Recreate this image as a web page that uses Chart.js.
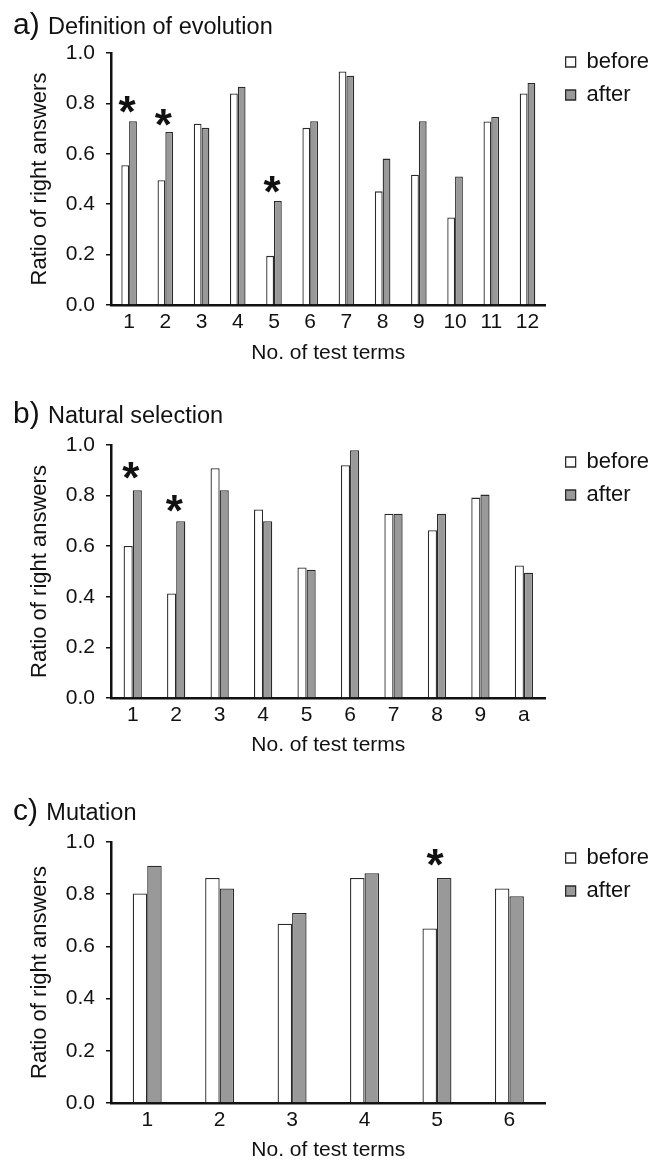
<!DOCTYPE html>
<html>
<head>
<meta charset="utf-8">
<script src="https://cdn.jsdelivr.net/npm/chart.js@4.4.1/dist/chart.umd.min.js"></script>
<style>
  body { margin: 0; background: #fff; width: 662px; height: 1166px; position: relative; overflow: hidden;
         font-family: "Liberation Sans", Arial, sans-serif; color: #111; }
  .panel { position: absolute; left: 0; width: 662px; }
  .ttl { position: absolute; left: 13px; font-size: 30px; line-height: 1; white-space: nowrap; z-index: 2; }
  .ttl span { font-size: 23.5px; }
</style>
</head>
<body>
<div class="ttl" style="top:9px">a) <span>Definition of evolution</span></div>
<div class="panel" style="top:0px"><canvas id="chartA" width="662" height="370"></canvas></div>

<div class="ttl" style="top:398px">b) <span>Natural selection</span></div>
<div class="panel" style="top:380px"><canvas id="chartB" width="662" height="383"></canvas></div>

<div class="ttl" style="top:795px">c) <span>Mutation</span></div>
<div class="panel" style="top:770px"><canvas id="chartC" width="662" height="396"></canvas></div>

<script>
// series names
const seriesNames = ["before", "after"];
const yTicks = [0, 0.2, 0.4, 0.6, 0.8, 1.0];

// a) Definition of evolution
const termsA = ["1", "2", "3", "4", "5", "6", "7", "8", "9", "10", "11", "12"];
const beforeA = [0.555, 0.495, 0.719, 0.839, 0.195, 0.703, 0.927, 0.451, 0.517, 0.347, 0.728, 0.839];
const afterA = [0.729, 0.687, 0.703, 0.866, 0.413, 0.729, 0.910, 0.581, 0.729, 0.510, 0.746, 0.881];
const starsA = [0.794, 0.746, null, null, 0.48, null, null, null, null, null, null, null];

// b) Natural selection
const termsB = ["1", "2", "3", "4", "5", "6", "7", "8", "9", "a"];
const beforeB = [0.601, 0.413, 0.908, 0.745, 0.516, 0.920, 0.728, 0.663, 0.792, 0.524];
const afterB = [0.821, 0.699, 0.821, 0.699, 0.507, 0.979, 0.728, 0.728, 0.804, 0.495];
const starsB = [0.901, 0.767, null, null, null, null, null, null, null, null];

// c) Mutation
const termsC = ["1", "2", "3", "4", "5", "6"];
const beforeC = [0.803, 0.862, 0.687, 0.862, 0.669, 0.822];
const afterC = [0.909, 0.822, 0.728, 0.880, 0.862, 0.792];
const starsC = [null, null, null, null, 0.94, null];

const FONT = '"Liberation Sans", Arial, sans-serif';
Chart.defaults.font.family = FONT;
Chart.defaults.color = '#111';

// asterisks over significant pairs
const starPlugin = {
  id: 'stars',
  afterDatasetsDraw(chart, args, opts) {
    const { ctx, scales: { x, y } } = chart;
    ctx.save();
    ctx.font = 'bold 44px ' + FONT;
    ctx.fillStyle = '#111';
    ctx.textAlign = 'center';
    ctx.textBaseline = 'alphabetic';
    const m = ctx.measureText('*');
    const shift = (m.actualBoundingBoxAscent - m.actualBoundingBoxDescent) / 2;
    (opts.values || []).forEach((v, i) => {
      if (v == null) return;
      ctx.fillText('*', x.getPixelForValue(i) - 2, y.getPixelForValue(v) + shift);
    });
    ctx.restore();
  }
};

// nudge the legend box to where the figure has it
const legendShift = {
  id: 'legendShift',
  afterLayout(chart, args, opts) {
    const l = chart.legend;
    if (!l) return;
    l.left += opts.dx || 0; l.right += opts.dx || 0;
    l.top += opts.dy || 0; l.bottom += opts.dy || 0;
  }
};

function makeChart(id, terms, before, after, stars, groupPct, padTop, axisH, titlePad, legendDy) {
  const ctx = document.getElementById(id).getContext('2d');
  return new Chart(ctx, {
    type: 'bar',
    data: {
      labels: terms,
      datasets: [
        { label: seriesNames[0], data: before, backgroundColor: '#ffffff', borderColor: '#2a2a2a', borderWidth: 1.3,
          categoryPercentage: groupPct, barPercentage: 1.0 },
        { label: seriesNames[1], data: after, backgroundColor: '#999999', borderColor: '#2a2a2a', borderWidth: 1.3,
          categoryPercentage: groupPct, barPercentage: 1.0 }
      ]
    },
    plugins: [starPlugin, legendShift],
    options: {
      responsive: false,
      animation: false,
      devicePixelRatio: 1,
      layout: { padding: { top: padTop, left: 0, right: 12, bottom: 0 } },
      plugins: {
        tooltip: { enabled: false },
        stars: { values: stars },
        legendShift: { dx: 9, dy: legendDy },
        legend: {
          position: 'right',
          align: 'start',
          labels: {
            boxWidth: 10,
            boxHeight: 10,
            padding: 11,
            color: '#111',
            font: { size: 22 }
          }
        }
      },
      scales: {
        x: {
          grid: { display: false, drawTicks: false },
          border: { display: true, color: '#111', width: 2.5 },
          ticks: { font: { size: 21 }, padding: 5, color: '#111', maxRotation: 0, autoSkip: false },
          title: { display: true, text: 'No. of test terms', font: { size: 21 }, color: '#111',
                   padding: { top: 0, bottom: titlePad } },
          afterFit: (scale) => { scale.height = axisH; }
        },
        y: {
          min: 0,
          max: 1,
          afterBuildTicks: (scale) => { scale.ticks = yTicks.map(v => ({ value: v })); },
          grid: { drawOnChartArea: false, drawTicks: true, tickLength: 5, color: '#111', lineWidth: 1.5 },
          border: { display: true, color: '#111', width: 2.5 },
          ticks: { font: { size: 21 }, padding: 11, color: '#111', callback: (v) => Number(v).toFixed(1) },
          title: { display: true, text: 'Ratio of right answers', font: { size: 22 }, color: '#111',
                   padding: { top: 26.8, bottom: 0 } },
          afterFit: (scale) => { scale.width = 111; }
        }
      }
    }
  });
}

makeChart('chartA', termsA, beforeA, afterA, starsA, 0.43, 53, 65, 4.4, -13);
makeChart('chartB', termsB, beforeB, afterB, starsB, 0.42, 65, 65, 5.4, -5);
makeChart('chartC', termsC, beforeC, afterC, starsC, 0.40, 72, 63, 3.4, -6);
</script>
</body>
</html>
